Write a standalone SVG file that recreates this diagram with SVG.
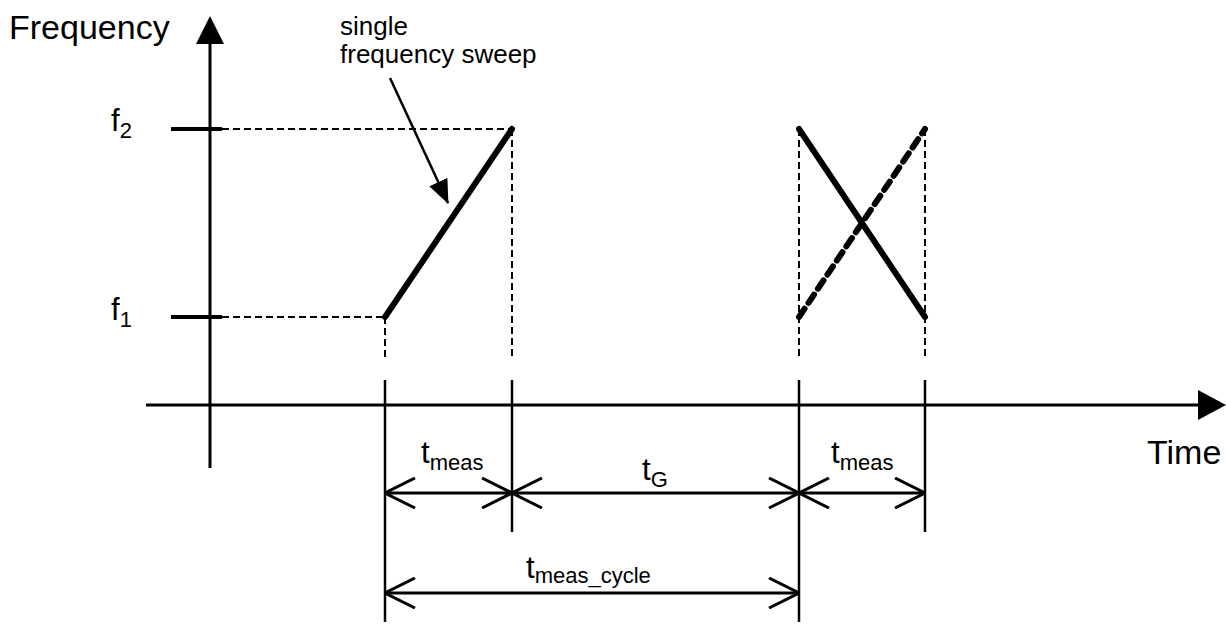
<svg xmlns="http://www.w3.org/2000/svg" width="1226" height="627" viewBox="0 0 1226 627">
<style>
  text { font-family: "Liberation Sans", Arial, sans-serif; fill: #000; }
  .lbl { font-size: 34px; }
  .main { font-size: 31px; }
  .sub { font-size: 22px; }
  .ann { font-size: 26px; }
  .axis { stroke: #000; stroke-width: 3; fill: none; }
  .tick { stroke: #000; stroke-width: 4; fill: none; }
  .dash { stroke: #000; stroke-width: 2; stroke-dasharray: 7 4; fill: none; }
  .vline { stroke: #000; stroke-width: 2.5; fill: none; }
  .dim { stroke: #000; stroke-width: 3; fill: none; }
  .sweep { stroke: #000; stroke-width: 6; fill: none; stroke-linecap: round; }
  .sweepd { stroke: #000; stroke-width: 6; fill: none; stroke-dasharray: 10 7; stroke-linecap: round; }
</style>
<defs>
  <marker id="open" viewBox="0 0 32 32" refX="31" refY="16" markerWidth="32" markerHeight="32" markerUnits="userSpaceOnUse" orient="auto-start-reverse">
    <path d="M1,1 L31,16 L1,31" fill="none" stroke="#000" stroke-width="3"/>
  </marker>
  <marker id="solid" viewBox="0 0 24 20" refX="23" refY="10" markerWidth="24" markerHeight="20" markerUnits="userSpaceOnUse" orient="auto">
    <path d="M0,0 L24,10 L0,20 Z" fill="#000"/>
  </marker>
</defs>

<g id="axes">
  <line class="axis" x1="210" y1="468" x2="210" y2="44"/>
  <polygon points="196,44 224,44 210,16" fill="#000"/>
  <line class="axis" x1="146" y1="405" x2="1199" y2="405"/>
  <polygon points="1198,390 1198,420 1226,405" fill="#000"/>
  <text class="lbl" x="9" y="39">Frequency</text>
  <text class="lbl" x="1147" y="464">Time</text>
</g>

<g id="f2">
  <line class="tick" x1="171" y1="129" x2="222" y2="129"/>
  <text x="111" y="131"><tspan class="main">f</tspan><tspan class="sub" dy="7">2</tspan></text>
</g>
<g id="f1">
  <line class="tick" x1="171" y1="317" x2="222" y2="317"/>
  <text x="111" y="320"><tspan class="main">f</tspan><tspan class="sub" dy="7">1</tspan></text>
</g>

<g id="guides">
  <line class="dash" x1="222" y1="129" x2="512" y2="129"/>
  <line class="dash" x1="222" y1="317" x2="385" y2="317"/>
  <line class="dash" x1="385" y1="317" x2="385" y2="357"/>
  <line class="dash" x1="512" y1="129" x2="512" y2="357"/>
  <line class="dash" x1="799" y1="129" x2="799" y2="357"/>
  <line class="dash" x1="925" y1="129" x2="925" y2="357"/>
</g>

<g id="sweeps">
  <line class="sweep" x1="385" y1="317" x2="512" y2="129"/>
  <line class="sweep" x1="799" y1="129" x2="925" y2="317"/>
  <line class="sweepd" x1="799" y1="317" x2="925" y2="129"/>
</g>

<g id="annotation">
  <text class="ann" x="340" y="35">single</text>
  <text class="ann" x="340" y="63">frequency sweep</text>
  <line x1="390" y1="78" x2="448" y2="203" stroke="#000" stroke-width="2.5" marker-end="url(#solid)"/>
</g>

<g id="connectors">
  <line class="vline" x1="385" y1="380" x2="385" y2="622"/>
  <line class="vline" x1="512" y1="380" x2="512" y2="532"/>
  <line class="vline" x1="799" y1="380" x2="799" y2="622"/>
  <line class="vline" x1="925" y1="380" x2="925" y2="532"/>
  <line class="dim" x1="385" y1="493" x2="512" y2="493" marker-start="url(#open)" marker-end="url(#open)"/>
  <line class="dim" x1="512" y1="493" x2="799" y2="493" marker-start="url(#open)" marker-end="url(#open)"/>
  <line class="dim" x1="799" y1="493" x2="925" y2="493" marker-start="url(#open)" marker-end="url(#open)"/>
  <line class="dim" x1="385" y1="593" x2="799" y2="593" marker-start="url(#open)" marker-end="url(#open)"/>
</g>

<g id="labels">
  <text x="421" y="463"><tspan class="main">t</tspan><tspan class="sub" dy="7">meas</tspan></text>
  <text x="642" y="480"><tspan class="main">t</tspan><tspan class="sub" dy="7">G</tspan></text>
  <text x="831" y="463"><tspan class="main">t</tspan><tspan class="sub" dy="7">meas</tspan></text>
  <text x="526" y="578"><tspan class="main">t</tspan><tspan class="sub" dy="5">meas_cycle</tspan></text>
</g>
</svg>
